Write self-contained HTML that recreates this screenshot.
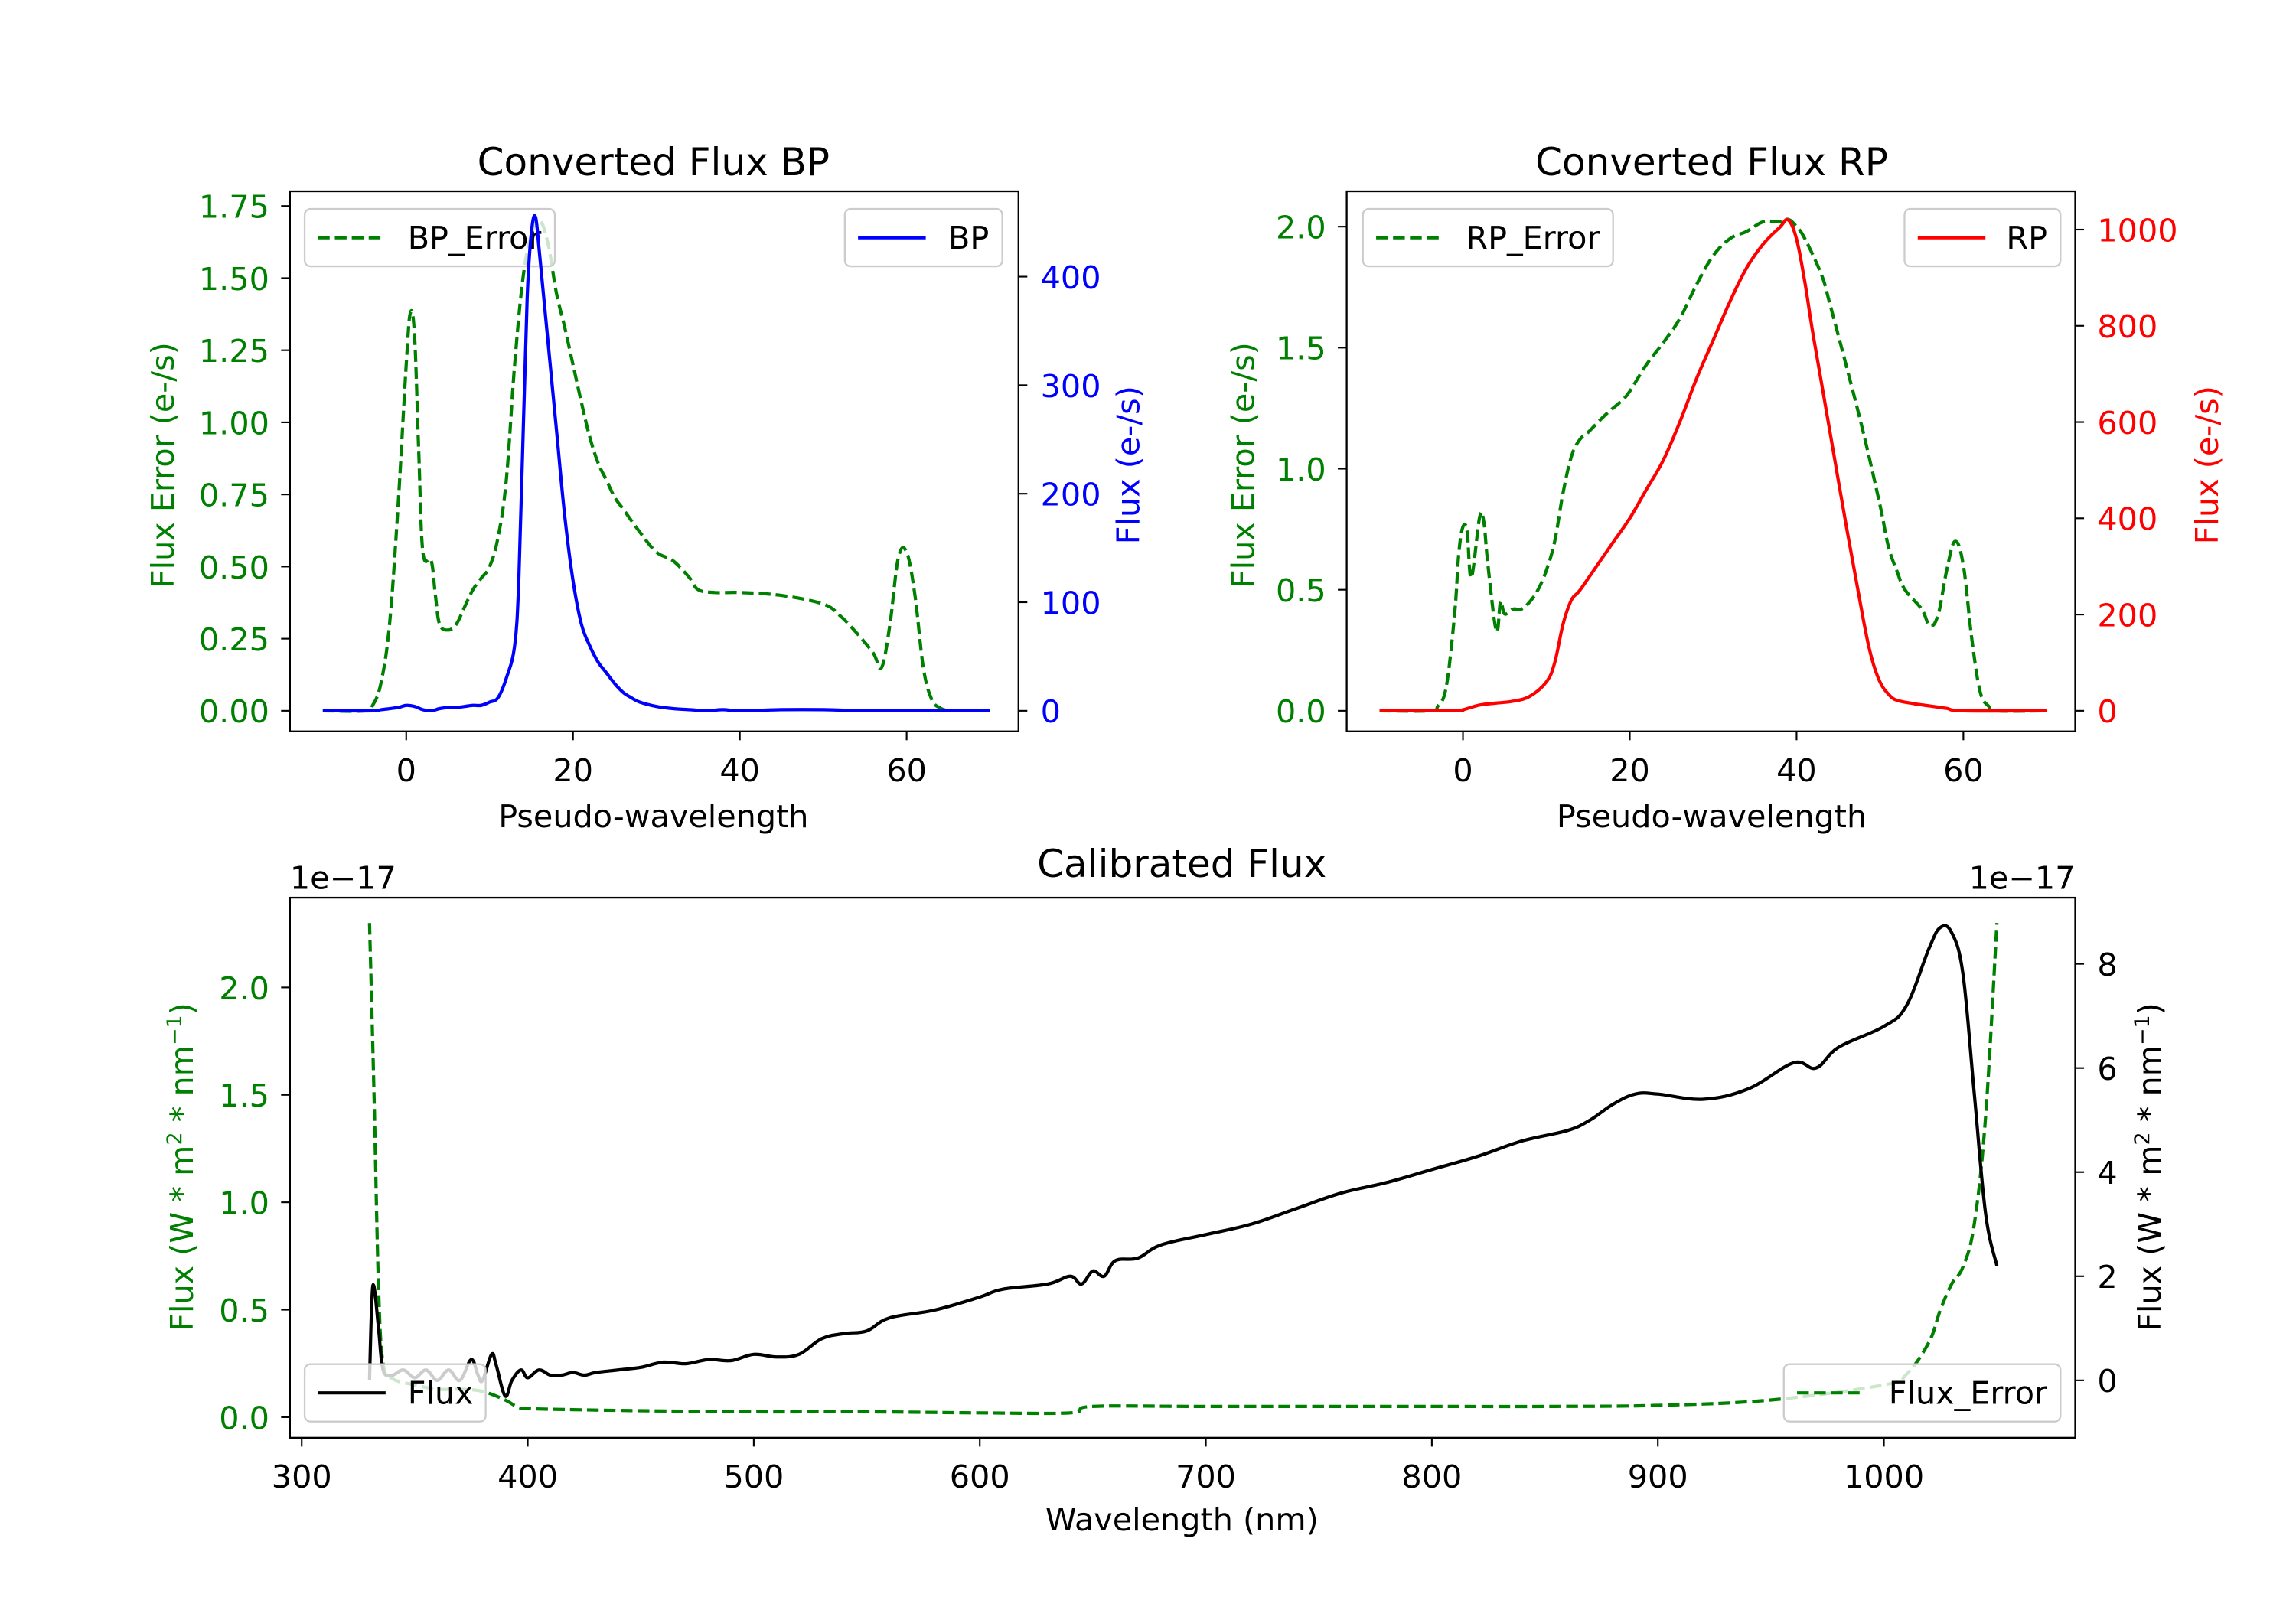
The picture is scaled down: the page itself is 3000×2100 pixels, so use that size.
<!DOCTYPE html>
<html><head><meta charset="utf-8"><style>
html,body{margin:0;padding:0;background:#fff}
svg{display:block}
text{font-family:"DejaVu Sans","Liberation Sans",sans-serif}
</style></head><body>
<svg id="fig" width="3000" height="2100" viewBox="0 0 1560 1092" xmlns="http://www.w3.org/2000/svg"></svg>
<script>
// ---------- data ----------
const bpErrX=[-10,-5,-4,-3,-2,-1,0,0.5,1,1.5,2,3,3.5,4,5,6,7,8,9,10,11,12,13,14,15,16,17,18,19,20,21,22,23,24,25,26,28,30,32,34,35,37,40,45,50,52,54,56,57,58,59,60,61,62,63,64,65];
const bpErrY=[0,0,0.02,0.1,0.3,0.7,1.2,1.38,1.3,0.9,0.55,0.52,0.4,0.3,0.28,0.3,0.36,0.42,0.46,0.5,0.6,0.8,1.2,1.5,1.65,1.7,1.62,1.45,1.33,1.2,1.07,0.95,0.86,0.8,0.74,0.7,0.62,0.55,0.52,0.46,0.42,0.41,0.41,0.4,0.37,0.33,0.27,0.2,0.15,0.3,0.53,0.55,0.4,0.15,0.04,0.01,0];
const bpX=[-10,-4,-3,-1,0,1,2,3,4,5,6,7,8,9,10,11,12,13,13.5,14,14.5,15,15.5,16,17,18,19,20,21,22,23,24,25,26,27,28,30,32,34,36,38,40,45,50,55,60,65,70];
const bpY=[0,0,1,3,5,4,1,0,2,3,3,4,5,5,8,12,30,60,120,250,380,440,455,420,340,260,180,120,80,60,45,35,25,17,12,8,4,2,1,0,1,0,1,1,0,0,0,0];
const rpErrX=[-10,-4,-3,-2,-1,-0.5,0,0.5,1,2,2.5,3,4,4.5,5,6,7,8,9,10,11,12,13,14,15,17,19,20,22,24,26,28,30,32,34,36,38,39,40,41,43,44,46,48,50,51,52,53,55,56,57,58,59,60,61,62,63,64,70];
const rpErrY=[0,0,0.02,0.1,0.4,0.65,0.76,0.74,0.55,0.8,0.78,0.6,0.33,0.45,0.4,0.42,0.42,0.45,0.5,0.58,0.7,0.9,1.05,1.12,1.15,1.22,1.28,1.32,1.43,1.52,1.62,1.76,1.88,1.95,1.98,2.02,2.02,2.03,2.0,1.95,1.8,1.68,1.42,1.15,0.85,0.68,0.58,0.5,0.42,0.35,0.4,0.58,0.7,0.6,0.3,0.08,0.02,0,0];
const rpX=[-10,-1,0,2,4,6,8,10,11,12,13,14,16,18,20,22,24,26,28,30,32,34,36,38,39,40,41,42,44,46,48,49,50,51,52,54,56,58,60,70];
const rpY=[0,0,2,12,16,20,30,60,100,180,230,250,300,350,400,460,520,600,690,770,850,920,970,1005,1020,980,890,780,580,380,190,110,60,35,22,15,10,5,0,0];
const ferrX=[330,332,334,336,340,350,360,370,380,390,395,400,420,450,500,550,600,640,650,700,800,850,900,950,1000,1010,1020,1025,1030,1035,1040,1045,1050];
const ferrY=[2.3,1.5,0.6,0.25,0.18,0.15,0.13,0.13,0.12,0.08,0.05,0.04,0.035,0.03,0.025,0.025,0.02,0.02,0.05,0.05,0.05,0.05,0.055,0.08,0.15,0.2,0.35,0.5,0.62,0.7,0.9,1.4,2.3];
const fluxX=[330,331,332,334,336,340,345,350,355,360,365,370,375,378,380,384,386,390,393,397,400,405,410,415,420,425,430,440,450,460,470,480,490,500,510,520,530,540,550,560,580,600,610,630,640,645,650,655,660,670,680,700,720,740,760,780,800,820,840,860,870,880,890,900,920,940,960,970,980,1000,1010,1020,1025,1030,1035,1040,1045,1050];
const fluxY=[0,1.5,1.8,1.0,0.2,0.1,0.2,0.05,0.2,0.0,0.2,0.0,0.4,0.1,0.0,0.5,0.3,-0.3,0.0,0.2,0.05,0.2,0.1,0.1,0.15,0.1,0.15,0.2,0.25,0.35,0.32,0.4,0.38,0.5,0.45,0.5,0.8,0.9,0.95,1.2,1.35,1.6,1.75,1.85,2.0,1.85,2.1,2.0,2.3,2.35,2.6,2.8,3.0,3.3,3.6,3.8,4.05,4.3,4.6,4.8,5.0,5.3,5.5,5.5,5.4,5.6,6.1,6.0,6.4,6.8,7.2,8.3,8.7,8.6,7.8,5.5,3.2,2.2];
const bpLeftTicks=[0,0.25,0.5,0.75,1.0,1.25,1.5,1.75];
const bpLeftLabels=["0.00","0.25","0.50","0.75","1.00","1.25","1.50","1.75"];
const bpRightTicks=[0,100,200,300,400];
const rpLeftTicks=[0,0.5,1.0,1.5,2.0];
const rpLeftLabels=["0.0","0.5","1.0","1.5","2.0"];
const rpRightTicks=[0,200,400,600,800,1000];
const pwTicks=[0,20,40,60];
const wlTicks=[300,400,500,600,700,800,900,1000];
const calLeftTicks=[0,0.5,1.0,1.5,2.0];
const calLeftLabels=["0.0","0.5","1.0","1.5","2.0"];
const calRightTicks=[0,2,4,6,8];

// ---------- helpers ----------
const NS="http://www.w3.org/2000/svg";
const svg=document.getElementById('fig');
function el(tag,attrs,parent,txt){const e=document.createElementNS(NS,tag);for(const k in attrs)e.setAttribute(k,attrs[k]);if(txt!==undefined)e.textContent=txt;(parent||svg).appendChild(e);return e;}
function lin(d0,d1,p0,p1){return v=>p0+(v-d0)*(p1-p0)/(d1-d0);}
const FS=21.5, TFS=26;
function smoothPath(pts){
  let d='M'+pts[0][0].toFixed(2)+','+pts[0][1].toFixed(2);
  for(let i=0;i<pts.length-1;i++){
    const p0=pts[Math.max(0,i-1)],p1=pts[i],p2=pts[i+1],p3=pts[Math.min(pts.length-1,i+2)];
    const t=0.18;
    const c1=[p1[0]+(p2[0]-p0[0])*t,p1[1]+(p2[1]-p0[1])*t];
    const c2=[p2[0]-(p3[0]-p1[0])*t,p2[1]-(p3[1]-p1[1])*t];
    d+='C'+c1[0].toFixed(2)+','+c1[1].toFixed(2)+' '+c2[0].toFixed(2)+','+c2[1].toFixed(2)+' '+p2[0].toFixed(2)+','+p2[1].toFixed(2);
  }
  return d;
}
function line(xs,ys,sx,sy,color,dashed,name,clip){
  const pts=xs.map((x,i)=>[sx(x),sy(ys[i])]);
  const p=el('path',{d:smoothPath(pts),fill:'none',stroke:color,'stroke-width':2.2,'stroke-linejoin':'round','clip-path':'url(#'+clip+')'});
  if(dashed)p.setAttribute('stroke-dasharray','8 3.5');
  
  
}
function frame(l,t,r,b,name){
  const f=el('rect',{x:l,y:t,width:r-l,height:b-t,fill:'none',stroke:'#000','stroke-width':1.2});
  
  
  const cp=el('clipPath',{id:name+'-clip'});el('rect',{x:l,y:t,width:r-l,height:b-t},cp);
}
function xticks(vals,sx,b,name){
  vals.forEach(v=>{const x=sx(v);el('line',{x1:x,y1:b,x2:x,y2:b+6,stroke:'#000','stroke-width':1.1});
    const t=el('text',{x:x,y:b+34,'font-size':FS,'text-anchor':'middle',fill:'#000'},null,String(v));
    
    });
}
function yticks(vals,labels,sy,xpos,side,color,name){
  vals.forEach((v,i)=>{const y=sy(v);const d=side==='l'?-6:6;
    el('line',{x1:xpos,y1:y,x2:xpos+d,y2:y,stroke:'#000','stroke-width':1.1});
    const t=el('text',{x:side==='l'?xpos-14:xpos+15,y:y+8,'font-size':FS,'text-anchor':side==='l'?'end':'start',fill:color},null,labels?labels[i]:String(v));
    
    });
}
function text(x,y,s,size,color,rot,name,anchor){
  const t=el('text',{x:x,y:y,'font-size':size,'text-anchor':anchor||'middle',fill:color},null);
  if(rot)t.setAttribute('transform','rotate(-90 '+x+' '+y+')');
  t.innerHTML=s;
  
  
  return t;
}
function legend(x,y,w,label,color,dashed,name,labelRight){
  const g=el('g',{});
  
  
  el('rect',{x:x,y:y,width:w,height:39,rx:4,fill:'rgba(255,255,255,0.8)',stroke:'#ccc','stroke-width':1.2},g);
  const l=el('line',{x1:x+9,y1:y+19.5,x2:x+55,y2:y+19.5,stroke:color,'stroke-width':2.2},g);
  if(dashed)l.setAttribute('stroke-dasharray','8 3.5');
  el('text',{x:labelRight?x+w-9:x+70,y:y+27,'font-size':FS,'text-anchor':labelRight?'end':'start',fill:'#000'},g,label);
}
const SUP='<tspan baseline-shift="super" font-size="14">2</tspan>';
const SUPM='<tspan baseline-shift="super" font-size="14">\u22121</tspan>';

// ---------- BP panel ----------
(function(){
  const L=197,R=692,T=130,B=497;
  const sx=lin(0,60,276,616), syl=lin(0,1.75,483,140), syr=lin(0,400,483,188);
  frame(L,T,R,B,'bp-axes');
  line(bpErrX,bpErrY,sx,syl,'#008000',true,'bp-error-line','bp-axes-clip');
  legend(207,142,170,'BP_Error','#008000',true,'bp-error-legend',false);
  line(bpX,bpY,sx,syr,'#0000ff',false,'bp-flux-line','bp-axes-clip');
  legend(574,142,107,'BP','#0000ff',false,'bp-legend',true);
  xticks(pwTicks,sx,B,'bp-x');
  yticks(bpLeftTicks,bpLeftLabels,syl,L,'l','#008000','bp-left-y');
  yticks(bpRightTicks,null,syr,R,'r','#0000ff','bp-right-y');
  text(444,119,'Converted Flux BP',TFS,'#000',false,'bp-title');
  text(444,562,'Pseudo-wavelength',FS,'#000',false,'bp-x-axis-title');
  text(118,316,'Flux Error (e-/s)',FS,'#008000',true,'bp-left-y-axis-title');
  text(774,316,'Flux (e-/s)',FS,'#0000ff',true,'bp-right-y-axis-title');
})();

// ---------- RP panel ----------
(function(){
  const L=915,R=1410,T=130,B=497;
  const sx=lin(0,60,994,1334), syl=lin(0,2.0,483,154), syr=lin(0,1000,483,156);
  frame(L,T,R,B,'rp-axes');
  line(rpErrX,rpErrY,sx,syl,'#008000',true,'rp-error-line','rp-axes-clip');
  legend(926,142,170,'RP_Error','#008000',true,'rp-error-legend',false);
  line(rpX,rpY,sx,syr,'#ff0000',false,'rp-flux-line','rp-axes-clip');
  legend(1294,142,106,'RP','#ff0000',false,'rp-legend',true);
  xticks(pwTicks,sx,B,'rp-x');
  yticks(rpLeftTicks,rpLeftLabels,syl,L,'l','#008000','rp-left-y');
  yticks(rpRightTicks,null,syr,R,'r','#ff0000','rp-right-y');
  text(1163,119,'Converted Flux RP',TFS,'#000',false,'rp-title');
  text(1163,562,'Pseudo-wavelength',FS,'#000',false,'rp-x-axis-title');
  text(852,316,'Flux Error (e-/s)',FS,'#008000',true,'rp-left-y-axis-title');
  text(1507,316,'Flux (e-/s)',FS,'#ff0000',true,'rp-right-y-axis-title');
})();

// ---------- Calibrated panel ----------
(function(){
  const L=197,R=1410,T=610,B=977;
  const sx=lin(300,1000,205,1280), syl=lin(0,2.0,963,671), syr=lin(0,8,938,655);
  frame(L,T,R,B,'calibrated-axes');
  line(ferrX,ferrY,sx,syl,'#008000',true,'flux-error-line','calibrated-axes-clip');
  legend(1212,927,188,'Flux_Error','#008000',true,'flux-error-legend',true);
  line(fluxX,fluxY,sx,syr,'#000000',false,'flux-line','calibrated-axes-clip');
  legend(207,927,123,'Flux','#000000',false,'flux-legend',false);
  xticks(wlTicks,sx,B,'wavelength-x');
  yticks(calLeftTicks,calLeftLabels,syl,L,'l','#008000','cal-left-y');
  yticks(calRightTicks,null,syr,R,'r','#000','cal-right-y');
  text(803,596,'Calibrated Flux',TFS,'#000',false,'calibrated-title');
  text(803,1040,'Wavelength (nm)',FS,'#000',false,'wavelength-x-axis-title');
  text(197,604,'1e\u221217',FS,'#000',false,'left-offset-text','start');
  text(1410,604,'1e\u221217',FS,'#000',false,'right-offset-text','end');
  text(131,793,'Flux (W * m'+SUP+' * nm'+SUPM+')',FS,'#008000',true,'cal-left-y-axis-title');
  text(1468,793,'Flux (W * m'+SUP+' * nm'+SUPM+')',FS,'#000',true,'cal-right-y-axis-title');
})();
</script>
</body></html>
